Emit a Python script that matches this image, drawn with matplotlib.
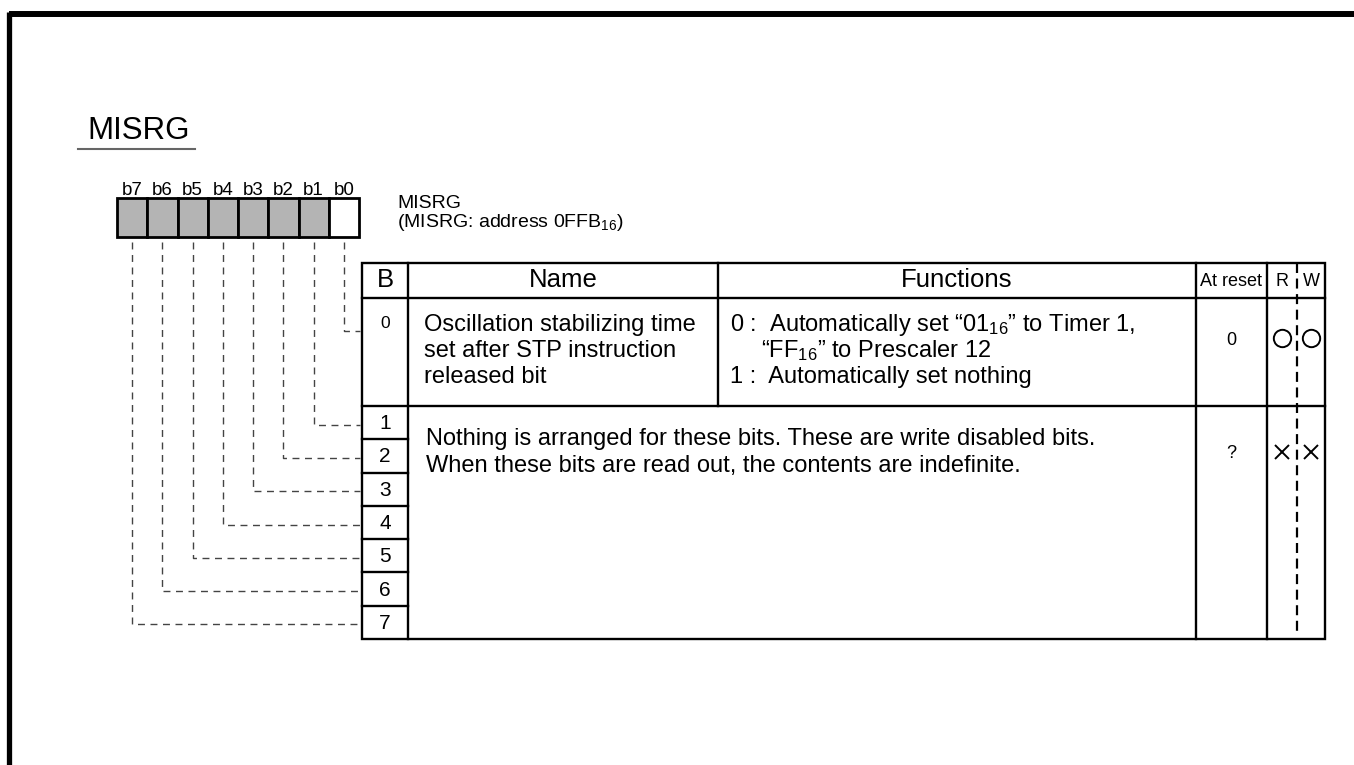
import matplotlib
matplotlib.use("Agg")
import matplotlib.pyplot as plt
from matplotlib.patches import Rectangle

plt.rcParams['font.family'] = ['Liberation Sans', 'DejaVu Sans']
plt.rcParams['mathtext.fontset'] = 'custom'
plt.rcParams['mathtext.rm'] = 'Liberation Sans'

# ---------------- register contents ----------------
reg_name = "MISRG"
reg_desc = ["MISRG", r"(MISRG: address 0FFB$\mathregular{_{16}}$)"]
bit_labels = ["b7", "b6", "b5", "b4", "b3", "b2", "b1", "b0"]
bit_used = [False, False, False, False, False, False, False, True]   # b7..b0
headers = ["B", "Name", "Functions", "At reset", "R", "W"]
row_bits = ["0", "1", "2", "3", "4", "5", "6", "7"]

name_b0 = ["Oscillation stabilizing time", "set after STP instruction", "released bit"]
func_b0 = [r"0 :  Automatically set “01$\mathregular{_{16}}$” to Timer 1,",
           r"“FF$\mathregular{_{16}}$” to Prescaler 12",
           "1 :  Automatically set nothing"]
text_b17 = ["Nothing is arranged for these bits. These are write disabled bits.",
            "When these bits are read out, the contents are indefinite."]
reset_vals = ["0", "?"]
rw_marks = [("o", "o"), ("x", "x")]

# ---------------- layout (pixels) ----------------
W, H = 1354, 765
fig = plt.figure(figsize=(W / 100, H / 100), dpi=100)
ax = fig.add_axes([0, 0, 1, 1])
ax.set_xlim(0, W)
ax.set_ylim(H, 0)
ax.axis('off')

# page frame
ax.plot([8.5, W], [14, 14], color='black', lw=4.3, solid_capstyle='butt')
ax.plot([8.5, 8.5], [12, H], color='black', lw=3.8, solid_capstyle='butt')

# title
ax.text(87, 139, reg_name, fontsize=22.5, va='baseline', ha='left')
ax.plot([78, 195], [149, 149], color='#666666', lw=1.5)

# bit boxes
bx0, bw, by0, by1 = 117, 30.25, 198, 237
for i, lab in enumerate(bit_labels):
    x = bx0 + i * bw
    fc = 'white' if bit_used[i] else '#b4b4b4'
    ax.add_patch(Rectangle((x, by0), bw, by1 - by0, facecolor=fc,
                           edgecolor='black', lw=2.0))
    ax.text(x + bw / 2, 195, lab, fontsize=13.5, ha='center', va='baseline')

ax.text(397, 208, reg_desc[0], fontsize=14, va='baseline')
ax.text(397, 227, reg_desc[1], fontsize=14, va='baseline')

# table geometry
tl, tb, tn, tf, tr_, trw, tright = 362, 408, 718, 1196, 1267, 1297, 1325
ttop, thead, trow0, tbot = 263, 298, 406, 639
row_h = (tbot - trow0) / 7
lw_t = 1.7

# outer box & columns
ax.add_patch(Rectangle((tl, ttop), tright - tl, tbot - ttop, fill=False,
                       edgecolor='black', lw=lw_t))
for x in [tb, tn, tf, tr_]:
    y_end = trow0 if x == tn else tbot
    ax.plot([x, x], [ttop, y_end], color='black', lw=lw_t)
ax.plot([tl, tright], [thead, thead], color='black', lw=lw_t)
ax.plot([tl, tright], [trow0, trow0], color='black', lw=lw_t)
for k in range(1, 7):
    y = trow0 + k * row_h
    ax.plot([tl, tb], [y, y], color='black', lw=lw_t)
ax.plot([trw, trw], [ttop, tbot - 4], color='black', lw=1.6,
        linestyle=(0, (4.5, 2.5)))

# header texts
hb = 287
ax.text((tl + tb) / 2, hb, headers[0], fontsize=18.5, ha='center', va='baseline')
ax.text((tb + tn) / 2, hb, headers[1], fontsize=18.5, ha='center', va='baseline')
ax.text((tn + tf) / 2, hb, headers[2], fontsize=18.5, ha='center', va='baseline')
ax.text((tf + tr_) / 2, 286, headers[3], fontsize=13, ha='center', va='baseline')
ax.text((tr_ + trw) / 2, 286, headers[4], fontsize=13, ha='center', va='baseline')
ax.text((trw + tright) / 2, 286, headers[5], fontsize=13, ha='center', va='baseline')

# row bit numbers
ax.text((tl + tb) / 2, 328, row_bits[0], fontsize=12.5, ha='center', va='baseline')
row_centers = [trow0 + (k + 0.5) * row_h for k in range(7)]
for k, lab in enumerate(row_bits[1:]):
    ax.text((tl + tb) / 2, row_centers[k] + 1, lab, fontsize=15,
            ha='center', va='center')

# row 0 contents
base0 = [331, 357, 383]
for j, line in enumerate(name_b0):
    ax.text(424, base0[j], line, fontsize=17, va='baseline')
ax.text(730, base0[0], func_b0[0], fontsize=17, va='baseline')
ax.text(761, base0[1], func_b0[1], fontsize=17, va='baseline')
ax.text(730, base0[2], func_b0[2], fontsize=17, va='baseline')
ax.text((tf + tr_) / 2, 345, reset_vals[0], fontsize=13, ha='center', va='baseline')

# rows 1-7 contents
ax.text(426, 445, text_b17[0], fontsize=17, va='baseline')
ax.text(426, 472, text_b17[1], fontsize=17, va='baseline')
ax.text((tf + tr_) / 2, 458, reset_vals[1], fontsize=13, ha='center', va='baseline')

# R/W marks
rx, wx = 1282, 1311
for (rm, wm), y in zip(rw_marks, [338, 452]):
    for m, x in [(rm, rx), (wm, wx)]:
        if m == 'o':
            ax.plot(x, y, marker='o', ms=12.5, mfc='none', mec='black', mew=1.4)
        else:
            ax.plot(x, y, marker='x', ms=10.5, mec='black', mew=1.4)

# dashed leader lines from bits to rows
leader_y = [331] + [row_centers[k] + 2 for k in range(7)]
for bit in range(8):
    x = bx0 + (7 - bit + 0.5) * bw
    y = leader_y[bit]
    ax.plot([x, x, tl - 2], [by1 + 5, y, y], color='#444444', lw=1.0,
            linestyle=(0, (5, 4)))

fig.savefig("out.png", dpi=100)
